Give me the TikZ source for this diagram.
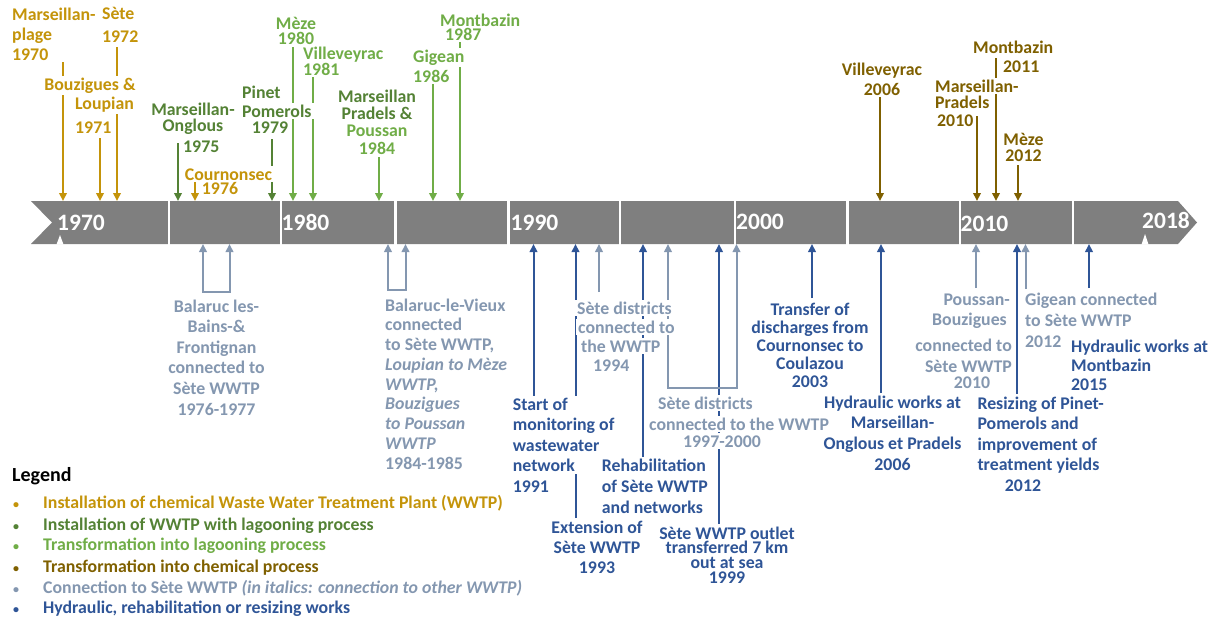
\documentclass[tikz,border=0pt]{standalone}
\usepackage{fontspec}
\setmainfont{Carlito}
\usetikzlibrary{arrows.meta}
\definecolor{bandgray}{RGB}{127,127,127}
\definecolor{chemgold}{RGB}{196,148,10}
\definecolor{lagdark}{RGB}{84,130,53}
\definecolor{laglight}{RGB}{112,173,71}
\definecolor{chembrown}{RGB}{127,96,0}
\definecolor{conn}{RGB}{132,151,176}
\definecolor{hyd}{RGB}{47,85,151}
\newcommand\lblf[1]{\bfseries\fontsize{17.8}{#1}\selectfont\lineskiplimit=-30pt\relax}
\newcommand\legb{\makebox[30pt][l]{\fontsize{12}{12}\selectfont\textbullet}}
\tikzset{
  arr/.style={line width=2pt,-{Triangle[length=8pt,width=7.5pt]}},
  brk/.style={line width=2pt,{Triangle[length=8pt,width=7.5pt]}-{Triangle[length=8pt,width=7.5pt]}},
  lbl/.style={inner sep=2pt,fill=white,font=\lblf{#1}},
  lbl/.default=20,
  yr/.style={text=white,font=\bfseries\fontsize{23.5}{28}\selectfont,inner sep=0pt,anchor=base},
  legitem/.style={anchor=base west,inner sep=0pt,font=\lblf{20}},
  sep/.style={white,line width=2.5pt}
}
\begin{document}
\begin{tikzpicture}[x=1pt,y=-1pt]
\useasboundingbox (0,0) rectangle (1221,621);
% timeline band
\fill[bandgray] (31,201) -- (1178,201) -- (1197,222.5) -- (1178,244) -- (31,244) -- (52,222.5) -- cycle;
\foreach \s in {169,281,395.5,508.3,620,735,847.7,960,1073}
  \draw[sep] (\s,200) -- (\s,245);
\fill[white] (56.5,244.5) -- (60,235) -- (63.5,244.5) -- cycle;
\fill[white] (1141.5,244.5) -- (1145,234) -- (1148.5,244.5) -- cycle;
\node[yr] (y70) at (81,230) {1970};
\node[yr] (y80) at (305.5,230.5) {1980};
\node[yr] (y90) at (534.5,230) {1990};
\node[yr] (y00) at (760,229.5) {2000};
\node[yr] (y10) at (984.5,231.5) {2010};
\node[yr] (y18) at (1166,228) {2018};
\coordinate (top) at (0,201);
\coordinate (bot) at (0,244);
% top arrows
\coordinate (a1) at (63,27);
\coordinate (a2) at (100,138);
\coordinate (a3) at (117,47);
\coordinate (a4) at (178,143);
\coordinate (a5) at (195,182);
\coordinate (a6) at (272,139);
\coordinate (a7) at (293,47);
\coordinate (a8) at (313,77);
\coordinate (a9) at (379,157);
\coordinate (a10) at (433,84);
\coordinate (a11) at (460,42);
\coordinate (a12) at (880,96);
\coordinate (a13) at (977,116);
\coordinate (a14) at (996,58);
\coordinate (a15) at (1018,165);
\draw[arr,chemgold] (a1) -- (a1 |- top);
\draw[arr,chemgold] (a2) -- (a2 |- top);
\draw[arr,chemgold] (a3) -- (a3 |- top);
\draw[arr,lagdark] (a4) -- (a4 |- top);
\draw[arr,chemgold] (a5) -- (a5 |- top);
\draw[arr,lagdark] (a6) -- (a6 |- top);
\draw[arr,laglight] (a7) -- (a7 |- top);
\draw[arr,laglight] (a8) -- (a8 |- top);
\draw[arr,laglight] (a9) -- (a9 |- top);
\draw[arr,laglight] (a10) -- (a10 |- top);
\draw[arr,laglight] (a11) -- (a11 |- top);
\draw[arr,chembrown] (a12) -- (a12 |- top);
\draw[arr,chembrown] (a13) -- (a13 |- top);
\draw[arr,chembrown] (a14) -- (a14 |- top);
\draw[arr,chembrown] (a15) -- (a15 |- top);
% bottom arrows
\coordinate (b91) at (533.5,396);
\coordinate (b93) at (575.5,518);
\coordinate (b94) at (599,292);
\coordinate (brh) at (643,457);
\coordinate (b99) at (719,524);
\coordinate (b03) at (812,298);
\coordinate (b06) at (881,393);
\coordinate (b10) at (976,288);
\coordinate (b12r) at (1017,394);
\coordinate (b12g) at (1025.5,289);
\coordinate (b15) at (1089,288);
\draw[arr,hyd] (b91) -- (b91 |- bot);
\draw[arr,hyd] (b93) -- (b93 |- bot);
\draw[arr,conn] (b94) -- (b94 |- bot);
\draw[arr,hyd] (brh) -- (brh |- bot);
\draw[arr,hyd] (b99) -- (b99 |- bot);
\draw[arr,hyd] (b03) -- (b03 |- bot);
\draw[arr,hyd] (b06) -- (b06 |- bot);
\draw[arr,conn] (b10) -- (b10 |- bot);
\draw[arr,hyd] (b12r) -- (b12r |- bot);
\draw[arr,conn] (b12g) -- (b12g |- bot);
\draw[arr,hyd] (b15) -- (b15 |- bot);
% brackets
\coordinate (k1l) at (203,244);
\coordinate (k1r) at (229.5,244);
\coordinate (k2l) at (388,244);
\coordinate (k2r) at (405.5,244);
\coordinate (k3l) at (668,244);
\coordinate (k3r) at (736.5,244);
\draw[brk,conn] (k1l) -- ++(0,48) -| (k1r);
\draw[brk,conn] (k2l) -- ++(0,46) -| (k2r);
\draw[brk,conn] (k3l) -- ++(0,144) -| (k3r);
% top labels
\node[lbl=20,text=chemgold,align=left,anchor=west] (t1) at (10,34) {Marseillan-\\plage\\1970};
\node[lbl=23,text=chemgold,align=left,anchor=west] (t2) at (100,25) {Sète\\1972};
\node[lbl,text=chemgold,anchor=base] (t3a) at (90,90) {Bouzigues \&};
\node[lbl,text=chemgold,anchor=base west] (t3b) at (73,109) {Loupian};
\node[lbl,text=chemgold,anchor=base west] (t3c) at (73,133) {1971};
\node[lbl=16,text=lagdark,align=center] (t4a) at (193,118.5) {Marseillan-\\Onglous};
\node[lbl,text=lagdark,anchor=base west] (t4b) at (181,152) {1975};
\node[lbl,text=chemgold,anchor=base] (t5a) at (228.5,180) {Cournonsec};
\node[lbl,text=chemgold,anchor=base] (t5b) at (220,194) {1976};
\node[lbl,text=lagdark,anchor=base west] (t6a) at (240,98) {Pinet};
\node[lbl,text=lagdark,anchor=base west] (t6b) at (240,117) {Pomerols};
\node[lbl,text=lagdark,anchor=base] (t6c) at (270,133) {1979};
\node[lbl=15,text=laglight,align=center] (t7) at (296,31) {Mèze\\1980};
\node[lbl=16,text=laglight,align=left,anchor=west] (t8) at (301,61) {Villeveyrac\\1981};
\node[lbl=17.3,align=center] (t9) at (377,122) {\color{lagdark}Marseillan\\\color{lagdark}Pradels \&\\\color{laglight}Poussan\\\color{laglight}1984};
\node[lbl,text=laglight,anchor=base west] (t10a) at (411,62) {Gigean};
\node[lbl,text=laglight,anchor=base west] (t10b) at (411,82) {1986};
\node[lbl,text=laglight,anchor=base west] (t11a) at (438,26) {Montbazin};
\node[lbl,text=laglight,anchor=base west] (t11b) at (443,40) {1987};
\node[lbl=20,text=chembrown,align=center] (t12) at (882,79) {Villeveyrac\\2006};
\node[lbl,text=chembrown,anchor=base west] (t13a) at (933,92) {Marseillan-};
\node[lbl,text=chembrown,anchor=base west] (t13b) at (933,108) {Pradels};
\node[lbl,text=chembrown,anchor=base west] (t13c) at (935,126) {2010};
\node[lbl,text=chembrown,anchor=base west] (t14a) at (971,53) {Montbazin};
\node[lbl,text=chembrown,anchor=base west] (t14b) at (1001,72) {2011};
\node[lbl=16,text=chembrown,align=center] (t15) at (1023.5,147.5) {Mèze\\2012};
% bottom labels
\node[lbl=20.6,text=conn,align=center] (u1) at (216.5,357.5) {Balaruc les-\\Bains-\&\\Frontignan\\connected to\\Sète WWTP\\1976-1977};
\node[lbl=19.75,text=conn,align=left,anchor=west] (u2) at (383,384) {Balaruc-le-Vieux\\connected\\to Sète WWTP,\\\textit{Loupian to Mèze}\\\textit{WWTP,}\\\textit{Bouzigues}\\\textit{to Poussan}\\\textit{WWTP}\\1984-1985};
\node[lbl=20.5,text=hyd,align=left,anchor=west] (u3) at (510.7,435) {Start of\\monitoring of\\wastewater\\network};
\node[lbl,text=hyd,anchor=base west] (u3b) at (510.7,492) {1991};
\node[lbl,text=conn,anchor=base west] (u4a) at (575,314) {Sète districts};
\node[lbl,text=conn,anchor=base west] (u4b) at (576,333) {connected to};
\node[lbl,text=conn,anchor=base west] (u4c) at (579,352) {the WWTP};
\node[lbl,text=conn,anchor=base west] (u4d) at (591,371) {1994};
\node[lbl=20,text=hyd,align=center] (u5) at (597,547) {Extension of\\Sète WWTP\\1993};
\node[lbl=21,text=hyd,align=left,anchor=west] (u6) at (599.7,486) {Rehabilitation\\of Sète WWTP\\and networks};
\node[lbl=14.7,text=hyd,align=center] (u8) at (727,555) {Sète WWTP outlet\\transferred 7 km\\out at sea\\1999};
\node[lbl=18,text=hyd,align=center] (u9) at (810,345) {Transfer of\\discharges from\\Cournonsec to\\Coulazou\\2003};
\node[lbl=20.7,text=hyd,align=center] (u10) at (892.5,433) {Hydraulic works at\\Marseillan-\\Onglous et Pradels\\2006};
\node[lbl,text=conn,anchor=base] (u7a) at (705.5,409) {Sète districts};
\node[lbl,text=conn,anchor=base west] (u7b) at (647,430) {connected to the WWTP};
\node[lbl,text=conn,anchor=base] (u7c) at (722,447) {1997-2000};
\node[lbl,text=conn,anchor=base east] (u11a) at (1012,305) {Poussan-};
\node[lbl,text=conn,anchor=base east] (u11b) at (1009,325) {Bouzigues};
\node[lbl,text=conn,anchor=base east] (u11c) at (1014,351) {connected to};
\node[lbl,text=conn,anchor=base east] (u11d) at (1014,372) {Sète WWTP};
\node[lbl,text=conn,anchor=base] (u11e) at (972,388) {2010};
\node[lbl=20.3,text=hyd,align=left,anchor=west] (u12) at (975.3,435) {Resizing of Pinet-\\Pomerols and\\improvement of\\treatment yields};
\node[lbl,text=hyd,anchor=base] (u12b) at (1023,491) {2012};
\node[lbl=21,text=conn,align=left,anchor=west] (u13) at (1023,320) {Gigean connected\\to Sète WWTP\\2012};
\node[lbl=19,text=hyd,align=left,anchor=west] (u14) at (1069,365) {Hydraulic works at\\Montbazin\\2015};
% legend
\node[font=\bfseries\fontsize{20}{24}\selectfont,anchor=base west,inner sep=0pt] (leg) at (12,481) {Legend};
\node[legitem,text=chemgold] (l1) at (13,508.5) {\legb Installation of chemical Waste Water Treatment Plant (WWTP)};
\node[legitem,text=lagdark] (l2) at (13,530) {\legb Installation of WWTP with lagooning process};
\node[legitem,text=laglight] (l3) at (13,550.5) {\legb Transformation into lagooning process};
\node[legitem,text=chembrown] (l4) at (13,572) {\legb Transformation into chemical process};
\node[legitem,text=conn] (l5) at (13,593) {\legb Connection to Sète WWTP \textit{(in italics: connection to other WWTP)}};
\node[legitem,text=hyd] (l6) at (13,613) {\legb Hydraulic, rehabilitation or resizing works};
\end{tikzpicture}
\end{document}
